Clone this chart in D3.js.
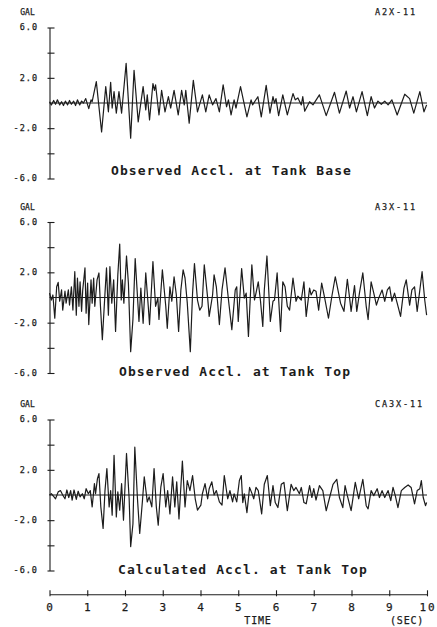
<!DOCTYPE html>
<html>
<head>
<meta charset="utf-8">
<script src="https://cdn.jsdelivr.net/npm/d3@7"></script>
<style>
  html, body { margin: 0; padding: 0; background: #fff; }
  text { font-family: "DejaVu Sans Mono", monospace; fill: #1c1c1c; }
  text.thin { stroke: #1c1c1c; stroke-width: 0.25px; }
</style>
</head>
<body>
<div id="wrapper"></div>
<script>
// values: [time (sec), acceleration (gal)]
const baseAccel = [
  [0.00,0.1],[0.05,-0.15],[0.11,0.2],[0.16,-0.1],[0.21,0.25],[0.27,-0.15],[0.32,0.1],[0.37,-0.2],
  [0.42,0.15],[0.48,-0.15],[0.53,0.2],[0.58,-0.1],[0.64,0.15],[0.69,-0.2],[0.74,0.25],[0.80,-0.15],
  [0.85,0.15],[0.90,0.0],[0.96,0.35],[1.01,-0.15],[1.04,-0.45],[1.10,0.25],[1.13,0.1],[1.24,1.7],
  [1.38,-2.3],[1.49,1.3],[1.56,-0.7],[1.62,1.65],[1.66,-0.4],[1.71,0.9],[1.77,-0.8],[1.84,0.9],
  [1.91,-0.8],[2.03,3.15],[2.15,-2.8],[2.24,2.6],[2.35,-1.5],[2.48,1.3],[2.55,-0.55],[2.59,0.65],
  [2.65,-1.35],[2.74,1.55],[2.78,1.0],[2.81,1.45],[2.90,-0.95],[2.97,1.0],[3.06,-0.7],[3.15,0.5],
  [3.21,-0.4],[3.30,1.0],[3.41,-0.95],[3.50,1.0],[3.57,-0.15],[3.61,1.0],[3.70,-1.6],[3.81,1.8],
  [3.92,-0.7],[4.05,0.65],[4.14,-0.7],[4.23,0.65],[4.32,-0.15],[4.41,0.35],[4.50,-0.7],[4.60,1.45],
  [4.69,-0.3],[4.74,0.25],[4.81,-0.95],[4.89,0.25],[4.94,-0.4],[5.06,1.3],[5.23,-1.1],[5.34,0.25],
  [5.38,-0.15],[5.52,0.5],[5.61,-1.1],[5.74,1.4],[5.84,-0.8],[5.92,0.5],[5.96,0.0],[6.00,0.35],
  [6.07,-1.0],[6.18,0.65],[6.30,-0.95],[6.45,0.75],[6.51,0.25],[6.58,0.4],[6.67,-0.15],[6.71,0.5],
  [6.76,-0.65],[6.89,0.1],[6.98,-0.15],[7.15,0.65],[7.33,-1.0],[7.55,0.85],[7.68,-0.8],[7.86,0.95],
  [7.95,-0.4],[8.04,0.5],[8.13,-0.7],[8.28,0.9],[8.42,-1.0],[8.52,0.5],[8.61,-0.4],[8.70,0.15],
  [8.79,-0.1],[8.88,0.15],[8.97,-0.15],[9.07,0.25],[9.21,-0.95],[9.41,0.7],[9.54,0.35],[9.65,-0.8],
  [9.81,0.9],[9.92,-0.7],[9.99,-0.15]
];

const topAccel = [
  [0.00,0.35],[0.05,-0.2],[0.09,0.2],[0.14,-1.65],[0.19,0.85],[0.23,1.2],[0.27,-0.3],[0.32,0.6],
  [0.35,-1.0],[0.41,0.5],[0.44,-0.45],[0.50,0.6],[0.53,-0.6],[0.58,0.85],[0.62,-1.0],[0.67,2.05],
  [0.71,-1.4],[0.74,1.55],[0.78,-0.7],[0.81,1.25],[0.85,-1.1],[0.88,0.6],[0.94,2.35],[0.97,-1.25],
  [1.01,1.15],[1.04,-2.15],[1.10,1.4],[1.13,-0.45],[1.17,1.55],[1.20,-0.7],[1.26,1.4],[1.31,1.95],
  [1.35,-0.7],[1.40,-3.35],[1.47,0.35],[1.51,2.35],[1.56,-1.4],[1.60,2.45],[1.65,-0.45],[1.70,1.4],
  [1.75,-2.7],[1.81,1.8],[1.86,4.25],[1.90,-0.2],[1.93,1.4],[1.97,-0.45],[2.04,3.3],[2.09,1.15],
  [2.15,-4.3],[2.21,-1.75],[2.27,3.1],[2.37,-1.9],[2.42,0.75],[2.48,-2.05],[2.55,1.95],[2.62,-0.85],
  [2.65,-2.15],[2.74,2.85],[2.81,-0.7],[2.87,-0.05],[2.90,-1.75],[2.99,2.2],[3.08,-0.7],[3.12,-2.45],
  [3.19,0.85],[3.24,-0.3],[3.30,1.65],[3.36,0.2],[3.42,-2.7],[3.48,0.6],[3.54,2.2],[3.59,1.55],
  [3.65,-0.45],[3.73,-4.3],[3.79,0.35],[3.84,2.7],[3.92,-0.2],[3.98,-1.0],[4.04,-0.7],[4.10,2.6],
  [4.19,-0.05],[4.23,-1.5],[4.32,0.2],[4.36,1.8],[4.42,0.85],[4.50,-2.15],[4.57,0.6],[4.65,2.35],
  [4.76,-0.7],[4.83,-2.55],[4.92,0.6],[4.96,0.85],[5.00,-1.9],[5.09,2.3],[5.16,-0.05],[5.21,0.35],
  [5.27,-3.1],[5.36,2.6],[5.43,-0.2],[5.47,0.35],[5.53,1.25],[5.59,-0.3],[5.65,-2.3],[5.69,0.6],
  [5.76,3.3],[5.85,-1.9],[5.92,-0.3],[5.96,-0.2],[6.03,1.95],[6.12,-2.7],[6.18,1.25],[6.24,0.85],
  [6.30,-0.7],[6.36,-1.0],[6.45,1.55],[6.53,-0.3],[6.58,0.1],[6.67,-0.2],[6.74,1.25],[6.80,-1.5],
  [6.89,0.75],[6.93,0.2],[7.00,0.6],[7.06,0.5],[7.13,-1.0],[7.21,1.15],[7.29,-0.05],[7.39,-1.65],
  [7.48,0.1],[7.57,1.65],[7.64,0.6],[7.71,-0.45],[7.80,-1.1],[7.89,1.45],[7.95,-0.05],[7.99,-1.1],
  [8.08,0.95],[8.14,-1.1],[8.21,0.35],[8.30,1.95],[8.39,-0.7],[8.44,-1.75],[8.52,1.25],[8.59,0.35],
  [8.66,-0.6],[8.72,-0.05],[8.81,0.6],[8.88,-0.3],[8.95,0.6],[9.01,0.85],[9.07,-0.3],[9.14,0.35],
  [9.21,-0.45],[9.30,-1.5],[9.39,0.75],[9.45,1.4],[9.54,-0.6],[9.60,0.6],[9.67,0.85],[9.74,-1.1],
  [9.87,2.05],[9.94,-0.2],[9.99,-1.4]
];

const calcAccel = [
  [0.00,0.0],[0.05,0.1],[0.12,-0.15],[0.16,-0.3],[0.23,0.25],[0.29,0.35],[0.35,0.0],[0.41,-0.3],
  [0.46,0.4],[0.51,-0.2],[0.56,0.35],[0.60,-0.4],[0.65,0.4],[0.71,-0.35],[0.76,0.3],[0.81,-0.15],
  [0.87,0.1],[0.92,-0.3],[0.97,0.5],[1.03,0.1],[1.08,0.35],[1.13,-0.95],[1.19,0.9],[1.22,0.1],
  [1.27,1.3],[1.31,1.7],[1.36,-0.95],[1.42,-2.65],[1.47,0.35],[1.52,2.1],[1.58,-0.95],[1.62,0.35],
  [1.66,-1.6],[1.71,3.15],[1.77,-1.75],[1.81,0.25],[1.86,-1.2],[1.91,0.9],[1.96,-2.0],[2.04,3.3],
  [2.11,-0.3],[2.15,-4.1],[2.21,-2.3],[2.26,3.8],[2.33,-0.3],[2.39,-3.05],[2.46,-0.55],[2.51,1.45],
  [2.59,-0.55],[2.64,-0.15],[2.71,-0.95],[2.77,2.1],[2.83,-0.95],[2.88,-2.4],[2.95,0.65],[3.01,1.7],
  [3.08,-0.95],[3.13,0.35],[3.19,-1.5],[3.26,1.45],[3.32,-0.95],[3.37,1.05],[3.43,-1.9],[3.52,2.7],
  [3.59,-0.95],[3.65,1.15],[3.72,0.35],[3.79,1.55],[3.86,-0.3],[3.92,-1.2],[4.01,-0.8],[4.05,0.1],
  [4.12,0.9],[4.19,-0.3],[4.23,0.5],[4.30,1.05],[4.36,0.0],[4.42,0.35],[4.50,-0.55],[4.57,-0.8],
  [4.63,1.55],[4.72,-0.3],[4.78,0.35],[4.85,-0.55],[4.89,0.1],[4.96,-0.55],[5.03,1.15],[5.08,1.55],
  [5.12,-0.6],[5.16,0.1],[5.23,-1.4],[5.30,0.6],[5.36,0.15],[5.41,-0.3],[5.47,0.6],[5.53,0.35],
  [5.62,-1.5],[5.69,0.85],[5.77,1.55],[5.85,-0.85],[5.92,0.75],[5.98,-0.6],[6.05,-1.0],[6.14,0.85],
  [6.21,1.0],[6.30,-1.25],[6.40,0.85],[6.47,0.35],[6.53,0.6],[6.62,0.1],[6.67,0.6],[6.74,-0.6],
  [6.80,-0.7],[6.89,0.75],[6.95,-0.2],[7.00,0.5],[7.06,-0.4],[7.15,0.75],[7.24,0.35],[7.33,-1.25],
  [7.42,-0.2],[7.51,0.85],[7.61,1.25],[7.68,-0.2],[7.77,-1.0],[7.83,0.75],[7.89,-0.05],[7.99,-1.25],
  [8.10,1.0],[8.19,-0.3],[8.30,1.25],[8.39,-0.85],[8.44,-1.1],[8.52,0.35],[8.59,-0.05],[8.68,0.5],
  [8.74,-0.2],[8.81,0.35],[8.88,-0.2],[8.97,0.35],[9.04,-0.45],[9.10,0.6],[9.16,-0.05],[9.23,-1.0],
  [9.32,0.35],[9.41,0.6],[9.50,0.8],[9.58,0.6],[9.67,-0.7],[9.74,0.35],[9.81,0.5],[9.85,1.15],
  [9.90,-0.2],[9.96,-0.85],[9.99,-0.6]
];

const panelSeries = [baseAccel, topAccel, calcAccel];
const panelTitles = ["Observed Accl. at Tank Base", "Observed Accl. at Tank Top", "Calculated Accl. at Tank Top"];
const panelCodes = ["A2X-11", "A3X-11", "CA3X-11"];
const yTickValues = [6, 4, 2, -2, -4, -6];
const yLabelValues = [6, 2, -2, -6];
const yLabelTexts = ["6.0", "2.0", "-2.0", "-6.0"];
const xTickValues = [0, 1, 2, 3, 4, 5, 6, 7, 8, 9, 10];
const xTickLabels = ["0", "1", "2", "3", "4", "5", "6", "7", "8", "9", "10"];

const width = 437
const height = 627
const panelTop = [27.5, 222, 419.5]
const panelHeight = 151
const titleX = [111, 119, 118]
const titleY = [175, 375.5, 573.5]
const axisY = 594.3
const ink = "#1c1c1c"

const svg = d3.select("#wrapper")
    .append("svg")
    .attr("width", width)
    .attr("height", height);

const xScaler = d3.scaleLinear()
    .domain([0, 10])
    .range([49.5, 427]);

panelSeries.forEach((series, i) => {
    const top = panelTop[i];
    const yScaler = d3.scaleLinear()
        .domain([6, -6])
        .range([top, top + panelHeight]);

    const g = svg.append("g");

    // y axis: ticks only, the labels are drawn by hand below (not every tick has one)
    const yAxisGen = d3.axisLeft(yScaler)
        .tickValues(yTickValues)
        .tickSize(0)
        .tickFormat("");
    const yAxis = g.append("g")
        .attr("transform", `translate(${xScaler(0)},0)`)
        .call(yAxisGen);
    yAxis.select(".domain").attr("stroke", ink).attr("stroke-width", 1.1);
    yAxis.selectAll(".tick line")
        .attr("x1", -2)
        .attr("x2", 5)
        .attr("stroke", ink)
        .attr("stroke-width", 1.1);

    g.selectAll("text.ylab")
        .data(yLabelValues)
        .join("text")
        .attr("class", "ylab thin")
        .attr("x", 38)
        .attr("y", d => yScaler(d))
        .attr("dy", "0.35em")
        .attr("text-anchor", "end")
        .attr("font-size", "8.5px")
        .attr("letter-spacing", "1px")
        .text((d, j) => yLabelTexts[j]);

    // zero line
    g.append("line")
        .attr("x1", xScaler(0))
        .attr("x2", xScaler(10))
        .attr("y1", yScaler(0))
        .attr("y2", yScaler(0))
        .attr("stroke", ink)
        .attr("stroke-width", 1.1);

    const lineGen = d3.line()
        .x(d => xScaler(d[0]))
        .y(d => yScaler(d[1]));

    g.append("path")
        .datum(series)
        .attr("d", lineGen)
        .attr("fill", "none")
        .attr("stroke", ink)
        .attr("stroke-width", 1.2)
        .attr("stroke-linejoin", "round");

    g.append("text")
        .attr("class", "thin")
        .attr("x", 27.5)
        .attr("y", top - 12.5)
        .attr("text-anchor", "middle")
        .attr("font-size", "8px")
        .text("GAL");

    g.append("text")
        .attr("class", "thin")
        .attr("x", 375)
        .attr("y", top - 12.5)
        .attr("font-size", "8.5px")
        .attr("letter-spacing", "1.9px")
        .text(panelCodes[i]);

    g.append("text")
        .attr("x", titleX[i])
        .attr("y", titleY[i])
        .attr("font-size", "13px")
        .attr("font-weight", "bold")
        .attr("letter-spacing", "1.1px")
        .text(panelTitles[i]);
});

// time axis
const xAxisGen = d3.axisBottom(xScaler)
    .tickValues(xTickValues)
    .tickSize(0)
    .tickFormat("");
const xAxis = svg.append("g")
    .attr("transform", `translate(0,${axisY})`)
    .call(xAxisGen);
xAxis.select(".domain").attr("stroke", ink).attr("stroke-width", 1.1);
xAxis.selectAll(".tick line")
    .attr("y1", -4)
    .attr("y2", 2)
    .attr("stroke", ink)
    .attr("stroke-width", 1.1);

svg.selectAll("text.xlab")
    .data(xTickValues)
    .join("text")
    .attr("class", "xlab thin")
    .attr("x", d => xScaler(d) + 1)
    .attr("y", 611)
    .attr("text-anchor", "middle")
    .attr("font-size", "11px")
    .attr("letter-spacing", "2px")
    .text((d, j) => xTickLabels[j]);

svg.append("text")
    .attr("class", "thin")
    .attr("x", 258)
    .attr("y", 624)
    .attr("text-anchor", "middle")
    .attr("font-size", "10px")
    .attr("letter-spacing", "0.8px")
    .text("TIME");

svg.append("text")
    .attr("class", "thin")
    .attr("x", 390)
    .attr("y", 624)
    .attr("font-size", "10px")
    .attr("letter-spacing", "0.8px")
    .text("(SEC)");
</script>
</body>
</html>
